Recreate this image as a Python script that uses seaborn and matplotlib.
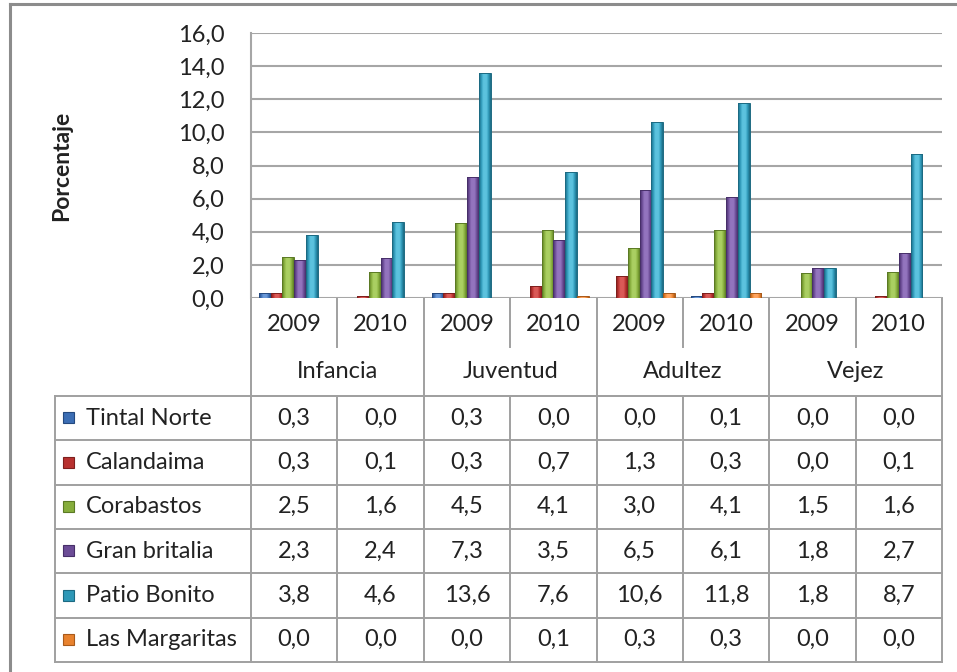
import matplotlib
matplotlib.use("Agg")
import matplotlib.pyplot as plt
import seaborn as sns
import pandas as pd
import numpy as np
from matplotlib.lines import Line2D
from matplotlib.patches import Rectangle
from matplotlib.colors import LinearSegmentedColormap, to_rgb

# ---------------- data ----------------
groups = ["Infancia", "Juventud", "Adultez", "Vejez"]
years = ["2009", "2010"]
series = ["Tintal Norte", "Calandaima", "Corabastos", "Gran britalia",
          "Patio Bonito", "Las Margaritas"]
tintal_norte = [0.3, 0.0, 0.3, 0.0, 0.0, 0.1, 0.0, 0.0]
calandaima = [0.3, 0.1, 0.3, 0.7, 1.3, 0.3, 0.0, 0.1]
corabastos = [2.5, 1.6, 4.5, 4.1, 3.0, 4.1, 1.5, 1.6]
gran_britalia = [2.3, 2.4, 7.3, 3.5, 6.5, 6.1, 1.8, 2.7]
patio_bonito = [3.8, 4.6, 13.6, 7.6, 10.6, 11.8, 1.8, 8.7]
las_margaritas = [0.0, 0.0, 0.0, 0.1, 0.3, 0.3, 0.0, 0.0]
y_ticks = [0, 2, 4, 6, 8, 10, 12, 14, 16]
y_label = "Porcentaje"

values = [tintal_norte, calandaima, corabastos, gran_britalia,
          patio_bonito, las_margaritas]
colors = ["#3C6EB4", "#B8312F", "#86AD3C", "#6C4C96", "#2E98B7", "#E8822E"]
light_colors = ["#6A98D8", "#DA5A57", "#AACF62", "#9374BE", "#5CC2DE", "#FFA560"]
edge_colors = ["#24497F", "#7E1F1D", "#5B7A24", "#472F69", "#1C6A82", "#A85A1A"]

cols = [f"{g} {y}" for g in groups for y in years]
rows = []
for s, vals in zip(series, values):
    for c, v in zip(cols, vals):
        rows.append({"col": c, "serie": s, "valor": v})
df = pd.DataFrame(rows)

# ---------------- figure ----------------
W, H = 957, 672
fig = plt.figure(figsize=(W / 100, H / 100), dpi=100)
FONT = ["Lato", "DejaVu Sans"]
plt.rcParams["font.family"] = FONT
TXT = "#222222"
GRID = "#a6a6a6"
FS = 17

# overlay axes in pixel coordinates
ov = fig.add_axes([0, 0, 1, 1], zorder=0)
ov.set_xlim(0, W)
ov.set_ylim(H, 0)
ov.axis("off")

# outer chart frame (extends past right/bottom)
ov.add_line(Line2D([10, 10], [4, H + 5], color="#8c8c8c", lw=2.2))
ov.add_line(Line2D([10, W + 5], [4, 4], color="#8c8c8c", lw=2.2))

# plot area
L, R, T, B = 251, 942, 33, 298
ax = fig.add_axes([L / W, 1 - B / H, (R - L) / W, (B - T) / H], zorder=2)
ax.patch.set_alpha(0)

sns.barplot(data=df, x="col", y="valor", hue="serie", order=cols,
            hue_order=series, palette=colors, width=0.82, ax=ax,
            legend=False, errorbar=None, saturation=1)

# bevelled look: horizontal gradient clipped to each bar
grad = np.concatenate([np.linspace(0, 1, 20), np.linspace(1, 0, 20)[1:]])
grad = np.clip(grad * 1.4, 0, 1)[None, :]
for i, cont in enumerate(ax.containers):
    cmap = LinearSegmentedColormap.from_list(
        f"c{i}", [edge_colors[i], colors[i], light_colors[i]])
    for p in cont:
        p.set_edgecolor(edge_colors[i])
        p.set_linewidth(0.7)
        p.set_zorder(4)
        p.set_facecolor("none")
        x0, w, h = p.get_x(), p.get_width(), p.get_height()
        if h <= 0:
            continue
        im = ax.imshow(grad, cmap=cmap, vmin=0, vmax=1, aspect="auto",
                       extent=[x0, x0 + w, 0, h], zorder=3,
                       interpolation="bilinear")
        im.set_clip_path(p)

ax.set_ylim(0, 16)
ax.set_xlim(-0.5, len(cols) - 0.5)
ax.set_yticks(y_ticks)
ax.set_yticklabels([f"{t:.1f}".replace(".", ",") for t in y_ticks],
                   fontsize=FS, color=TXT, family=FONT)
ax.tick_params(axis="y", length=0, pad=19)
ax.set_xticks([])
ax.set_xlabel("")
ax.set_ylabel("")
for sp in ["top", "right", "bottom"]:
    ax.spines[sp].set_visible(False)
ax.spines["left"].set_color(GRID)
ax.spines["left"].set_linewidth(1.5)
for t in y_ticks:
    ax.axhline(t, color=GRID, lw=1.5, zorder=1)

fig.text(62 / W, 1 - 166 / H, y_label, rotation=90, ha="center", va="center",
         fontsize=16.5, fontweight="bold", color=TXT, family=FONT)

# ---------------- data table ----------------
LC = "#a0a0a0"
cw = (R - L) / len(cols)
xs = [L + i * cw for i in range(len(cols) + 1)]
y_year, y_grp = 347, 396
row_h = (662 - y_grp) / len(series)
ys = [y_grp + i * row_h for i in range(len(series) + 1)]
TL = 55

def hl(x0, x1, y):
    ov.add_line(Line2D([x0, x1], [y, y], color=LC, lw=1.4))

def vl(x, y0, y1):
    ov.add_line(Line2D([x, x], [y0, y1], color=LC, lw=1.4))

# header rows
hl(L, R, y_grp)
for i, x in enumerate(xs):
    if i % 2 == 0:
        vl(x, B, ys[-1])
    else:
        vl(x, B, y_year)
        vl(x, y_grp, ys[-1])
for i, c in enumerate(cols):
    ov.text((xs[i] + xs[i + 1]) / 2, (B + y_year) / 2 + 2, years[i % 2],
            ha="center", va="center", fontsize=FS, color=TXT)
for g, name in enumerate(groups):
    ov.text((xs[2 * g] + xs[2 * g + 2]) / 2, (y_year + y_grp) / 2, name,
            ha="center", va="center", fontsize=FS, color=TXT)

# body rows
for y in ys:
    hl(TL, R, y)
vl(TL, ys[0], ys[-1])
for r, (s, vals) in enumerate(zip(series, values)):
    yc = (ys[r] + ys[r + 1]) / 2
    ov.add_patch(Rectangle((63, yc - 6), 11, 11, facecolor=colors[r],
                           edgecolor=edge_colors[r], lw=0.8))
    ov.text(86, yc, s, ha="left", va="center", fontsize=FS, color=TXT)
    for i, v in enumerate(vals):
        ov.text((xs[i] + xs[i + 1]) / 2, yc, f"{v:.1f}".replace(".", ","),
                ha="center", va="center", fontsize=FS, color=TXT)

fig.savefig("out.png", dpi=100)
